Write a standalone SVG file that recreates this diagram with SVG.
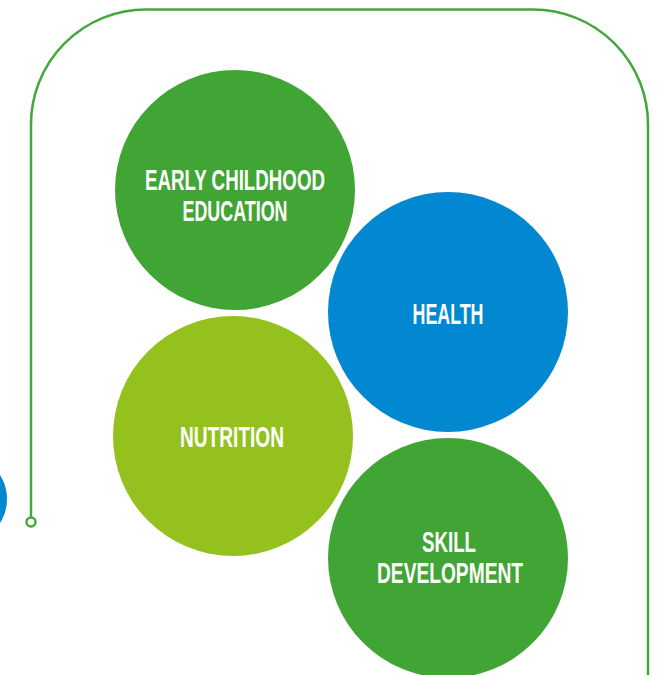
<svg xmlns="http://www.w3.org/2000/svg" width="661" height="675" viewBox="0 0 661 675">
<style>
.lbl{font-family:"Liberation Sans","Arial",sans-serif;font-weight:700;font-size:30px;fill:#ffffff;text-anchor:middle}
.frame{fill:none;stroke:#43a83a;stroke-width:2.5}
</style>
<rect width="661" height="675" fill="#ffffff"/>
<g id="connectors">
<path class="frame" d="M31,517 V125 A115,115 0 0 1 146,9.5 H533 A115,115 0 0 1 648,125 V675"/>
<circle class="frame" cx="31" cy="522" r="4.5" fill="#ffffff"/>
</g>
<g id="partial-blue">
<circle cx="-38" cy="499" r="45" fill="#0288d1"/>
</g>
<g id="early-childhood">
<circle cx="235" cy="190" r="120" fill="#41a535"/>
<text class="lbl" x="235" y="190" textLength="180" lengthAdjust="spacingAndGlyphs">EARLY CHILDHOOD</text>
<text class="lbl" x="235" y="221" textLength="105" lengthAdjust="spacingAndGlyphs">EDUCATION</text>
</g>
<g id="health">
<circle cx="448" cy="312" r="120" fill="#0288d1"/>
<text class="lbl" x="448" y="324" textLength="71" lengthAdjust="spacingAndGlyphs">HEALTH</text>
</g>
<g id="nutrition">
<circle cx="233" cy="436" r="120" fill="#95c11f"/>
<text class="lbl" x="232" y="447" textLength="104" lengthAdjust="spacingAndGlyphs">NUTRITION</text>
</g>
<g id="skill-development">
<circle cx="448" cy="558" r="120" fill="#41a535"/>
<text class="lbl" x="449" y="552" textLength="54" lengthAdjust="spacingAndGlyphs">SKILL</text>
<text class="lbl" x="450" y="583" textLength="146" lengthAdjust="spacingAndGlyphs">DEVELOPMENT</text>
</g>
</svg>
